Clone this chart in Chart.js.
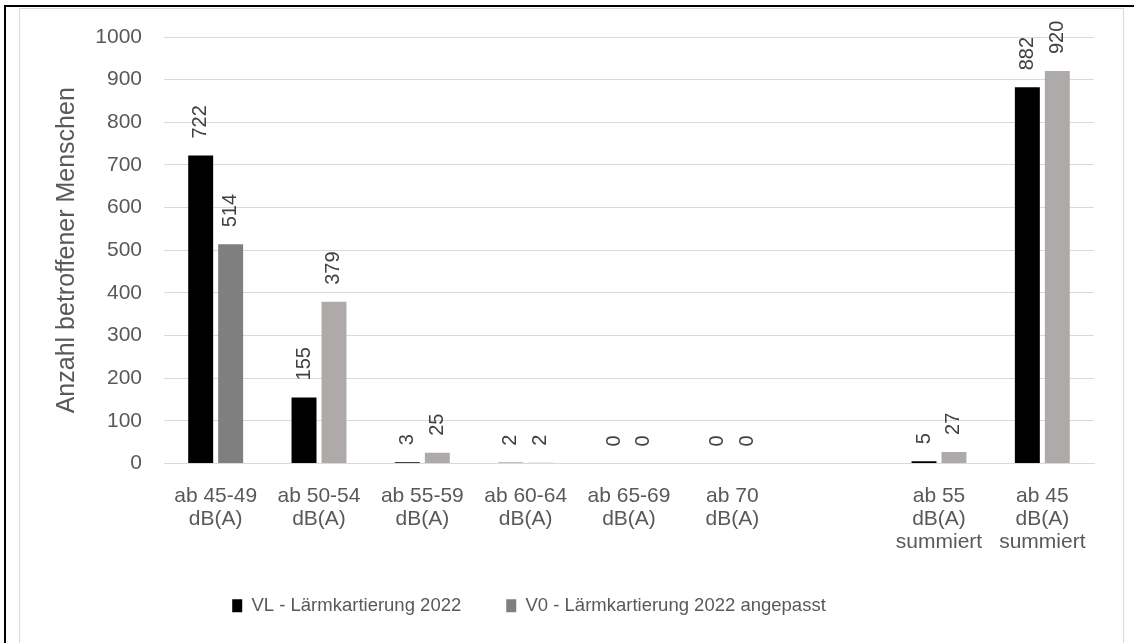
<!DOCTYPE html>
<html>
<head>
<meta charset="utf-8">
<script src="https://cdn.jsdelivr.net/npm/chart.js@4"></script>
<style>
 body { margin: 0; background: #fff; }
 #wrap { position: relative; width: 1134px; height: 643px; }
 #frame-black { position: absolute; left: 4px; top: 5px; right: 0; bottom: -5px; border-left: 2px solid #000; border-top: 2px solid #000; }
 #frame-grey { position: absolute; left: 19px; top: 8px; width: 1103px; bottom: -5px; border: 1px solid #d9d9d9; }
 canvas { position: absolute; left: 0; top: 0; }
</style>
</head>
<body>
<div id="wrap">
 <div id="frame-black"></div>
 <div id="frame-grey"></div>
 <canvas id="chart"></canvas>
</div>
<script>
// Daten
const categories = [
 ["ab 45-49", "dB(A)"],
 ["ab 50-54", "dB(A)"],
 ["ab 55-59", "dB(A)"],
 ["ab 60-64", "dB(A)"],
 ["ab 65-69", "dB(A)"],
 ["ab 70", "dB(A)"],
 "",
 ["ab 55", "dB(A)", "summiert"],
 ["ab 45", "dB(A)", "summiert"]
];
const vlValues = [722, 155, 3, 2, 0, 0, null, 5, 882];
const v0Values = [514, 379, 25, 2, 0, 0, null, 27, 920];
const seriesNames = ["VL - Lärmkartierung 2022", "V0 - Lärmkartierung 2022 angepasst"];
const yTicks = [0, 100, 200, 300, 400, 500, 600, 700, 800, 900, 1000];

const FONT = "'Liberation Sans', Arial, sans-serif";

// Werte über den Balken, um 90° gedreht
const barLabels = {
 id: "barLabels",
 afterDatasetsDraw(chart) {
 const ctx = chart.ctx;
 ctx.save();
 ctx.font = "20px " + FONT;
 ctx.fillStyle = "#404040";
 ctx.textAlign = "left";
 ctx.textBaseline = "middle";
 chart.data.datasets.forEach((ds, i) => {
 chart.getDatasetMeta(i).data.forEach((bar, j) => {
 const v = ds.data[j];
 if (v === null || v === undefined) return;
 ctx.save();
 ctx.translate(bar.x, bar.y - 17);
 ctx.rotate(-Math.PI / 2);
 ctx.fillText(String(v), 0, 0);
 ctx.restore();
 });
 });
 ctx.restore();
 }
};

// Legende etwas nach links schieben wie im Original
const legendShift = {
 id: "legendShift",
 afterLayout(chart) {
 const lg = chart.legend;
 if (!lg) return;
 lg.left -= 38;
 lg.right -= 38;
 }
};

new Chart(document.getElementById("chart"), {
 type: "bar",
 data: {
 labels: categories,
 datasets: [
 {
 label: seriesNames[0],
 data: vlValues,
 backgroundColor: "#000000",
 categoryPercentage: 0.58,
 barPercentage: 0.833
 },
 {
 label: seriesNames[1],
 data: v0Values,
 backgroundColor: (c) => (c.dataIndex === 0 ? "#7f7f7f" : "#aeaaaa"),
 categoryPercentage: 0.58,
 barPercentage: 0.833
 }
 ]
 },
 options: {
 responsive: true,
 maintainAspectRatio: false,
 animation: false,
 layout: { padding: { left: 40, right: 40, top: 37, bottom: 18 } },
 plugins: {
 legend: {
 position: "bottom",
 labels: {
 boxWidth: 10,
 boxHeight: 13,
 padding: 45,
 color: "#595959",
 font: { family: FONT, size: 18.5 }
 }
 },
 tooltip: { enabled: false }
 },
 scales: {
 x: {
 grid: { display: false },
 border: { display: true, color: "#d9d9d9" },
 ticks: {
 color: "#595959",
 font: { family: FONT, size: 21, lineHeight: 1.1 },
 padding: 13,
 maxRotation: 0,
 autoSkip: false
 },
 afterFit(scale) { scale.height = 88; }
 },
 y: {
 min: 0,
 max: 1000,
 afterBuildTicks(scale) { scale.ticks = yTicks.map((v) => ({ value: v })); },
 grid: { color: "#d9d9d9", drawTicks: false },
 border: { display: false },
 ticks: {
 color: "#595959",
 font: { family: FONT, size: 21 },
 padding: 22,
 callback: (v) => String(v)
 },
 title: {
 display: true,
 text: "Anzahl betroffener Menschen",
 color: "#595959",
 font: { family: FONT, size: 25 },
 padding: { top: 12, bottom: 0 }
 },
 afterFit(scale) { scale.width = 124; }
 }
 }
 },
 plugins: [barLabels, legendShift]
});
</script>
</body>
</html>
